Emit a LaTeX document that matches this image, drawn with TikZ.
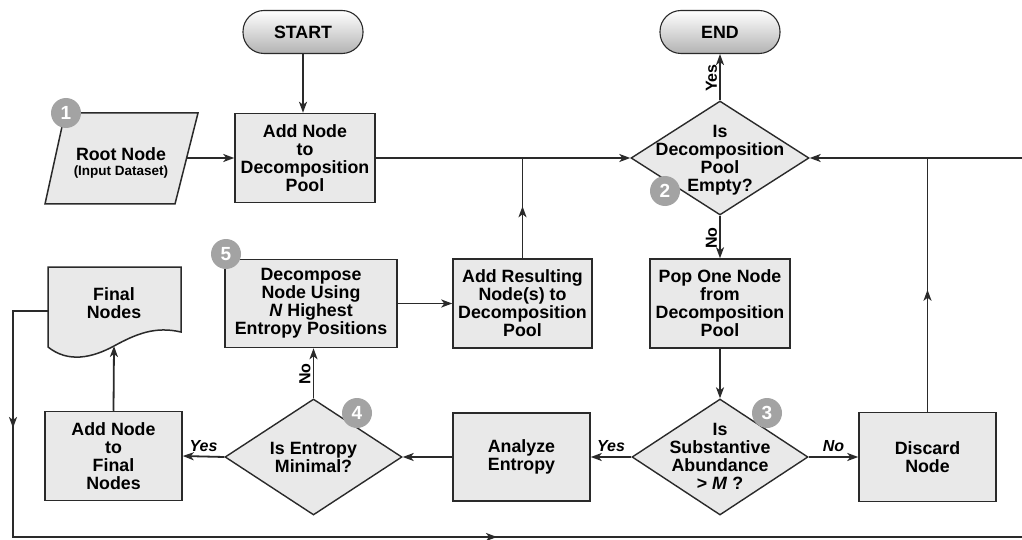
\documentclass[tikz,border=0pt]{standalone}
\usepackage{fontspec}
\setmainfont{Liberation Sans}
\usetikzlibrary{shapes.geometric,arrows.meta,decorations.markings}
\definecolor{boxfill}{HTML}{E9E9E9}
\definecolor{edgecol}{HTML}{2A2A2A}
\definecolor{badgegray}{HTML}{A3A3A3}
\begin{document}
\begin{tikzpicture}[x=1pt,y=-1pt,
  >={Stealth[length=11pt,width=8pt,inset=3pt]},
  font=\fontsize{17.8}{18}\selectfont\bfseries,
  box/.style={draw=edgecol, line width=1.5pt, fill=boxfill, align=center, inner sep=2pt},
  term/.style={draw=edgecol, line width=1.1pt, rounded corners=21pt, top color=white, bottom color=black!30, minimum width=120pt, minimum height=43pt},
  dia/.style={diamond, draw=edgecol, line width=1.4pt, fill=boxfill, inner sep=0pt},
  dtext/.style={align=center},
  badge/.style={circle, fill=badgegray, text=white, inner sep=0pt, minimum size=30pt, font=\fontsize{19}{19}\selectfont\bfseries},
  flow/.style={draw=edgecol, line width=1.8pt, ->},
  line/.style={draw=edgecol, line width=1.8pt},
  lab/.style={font=\fontsize{16}{16}\selectfont\bfseries\itshape},
  labv/.style={font=\fontsize{16}{16}\selectfont\bfseries, rotate=90, anchor=south, inner sep=2pt}
]
\useasboundingbox (0,0) rectangle (1022,540);
\fill[white] (0,0) rectangle (1022,540);

% terminals
\node[term] (start) at (303,32) {START};
\node[term] (end) at (720,32) {END};

% root node (parallelogram)
\draw[draw=edgecol, line width=1.5pt, fill=boxfill] (65,113) -- (198,113) -- (175,204) -- (45,204) -- cycle;
\node[align=center] (root) at (121,163) {Root Node\\[-3pt]{\fontsize{13.5}{14}\selectfont(Input Dataset)}};
\coordinate (rootE) at (187,158);

% boxes
\node[box, minimum width=140pt, minimum height=89pt] (add) at (305,158) {Add Node\\to\\Decomposition\\Pool};
\node[box, minimum width=140pt, minimum height=89pt] (pop) at (720,303.5) {Pop One Node\\from\\Decomposition\\Pool};
\node[box, minimum width=137pt, minimum height=89pt] (disc) at (927.5,457) {Discard\\Node};
\node[box, minimum width=137pt, minimum height=88pt] (ana) at (521.5,457) {Analyze\\Entropy};
\node[box, minimum width=137pt, minimum height=89pt] (fadd) at (113.5,456) {Add Node\\to\\Final\\Nodes};
\node[box, minimum width=172pt, minimum height=88pt] (dec) at (311,303.5) {Decompose\\Node Using\\\textit{N} Highest\\Entropy Positions};
\node[box, minimum width=139pt, minimum height=89pt] (res) at (522.5,303.5) {Add Resulting\\Node(s) to\\Decomposition\\Pool};

% diamonds
\node[dia, minimum width=178pt, minimum height=114pt] (d1) at (720,158) {};
\node[dtext] (d1t) at (720,160) {Is\\Decomposition\\Pool\\Empty?};
\node[dia, minimum width=176pt, minimum height=116pt] (d2) at (720,457) {};
\node[dtext] (d2t) at (720,456) {Is\\Substantive\\Abundance\\> \textit{M} ?};
\node[dia, minimum width=177pt, minimum height=116pt] (d3) at (313.5,457) {};
\node[dtext] (d3t) at (313.5,457) {Is Entropy\\Minimal?};

% final nodes document
\draw[draw=edgecol, line width=1.5pt, fill=boxfill] (48,267) -- (181,267) -- (181,332)
  .. controls (155,326) and (136,334) .. (114,346)
  .. controls (92,358) and (68,363) .. (48,347) -- cycle;
\node[align=center] (fdoc) at (114,303) {Final\\Nodes};
\coordinate (fnb) at (114,346);
\coordinate (fnl) at (48,311);
\coordinate (c1) at (13,311);
\coordinate (c2) at (13,537);
\coordinate (c3) at (1024,537);
\coordinate (c4) at (1024,158);

% connectors
\draw[flow] (start.south) -- (start.south |- add.north);
\draw[flow] (rootE) -- (rootE -| add.west);
\draw[flow] (add.east) -- (d1.west);
\draw[flow] (d1.north) -- node[labv, xshift=-1pt] {Yes} (end.south);
\draw[flow] (d1.south) -- node[labv, xshift=-1pt] {No} (pop.north);
\draw[flow] (pop.south) -- (d2.north);
\draw[flow] (d2.east) -- node[lab, above=1pt] {No} (disc.west);
\draw[flow] (d2.west) -- node[lab, above=1pt] {Yes} (ana.east);
\draw[flow] (ana.west) -- (d3.east);
\draw[flow] (d3.west) -- node[lab, above=1pt] {Yes} (fadd.east);
\draw[flow] (fadd.north) -- (fnb);
\draw[flow] (d3.north) -- node[labv, xshift=-1pt] {No} (d3.north |- dec.south);
\draw[flow] (dec.east) -- (res.west);
\draw[line, postaction={decorate}, decoration={markings, mark=at position 52pt with {\arrow{>}}}]
  (res.north) -- (res.north |- add.east);
\draw[line, postaction={decorate}, decoration={markings, mark=at position 122pt with {\arrow{>}}}]
  (disc.north) -- (disc.north |- d1.east);
\draw[flow, postaction={decorate}, decoration={markings, mark=at position 152pt with {\arrow{>}}, mark=at position 745pt with {\arrow{>}}}]
  (fnl) -- (c1) -- (c2) -- (c3) -- (c4) -- (d1.east);

% badges
\node[badge] (b1) at (66,113) {1};
\node[badge] (b2) at (665,191) {2};
\node[badge] (b3) at (767,413) {3};
\node[badge] (b4) at (357,413) {4};
\node[badge] (b5) at (226,254) {5};
\end{tikzpicture}
\end{document}
